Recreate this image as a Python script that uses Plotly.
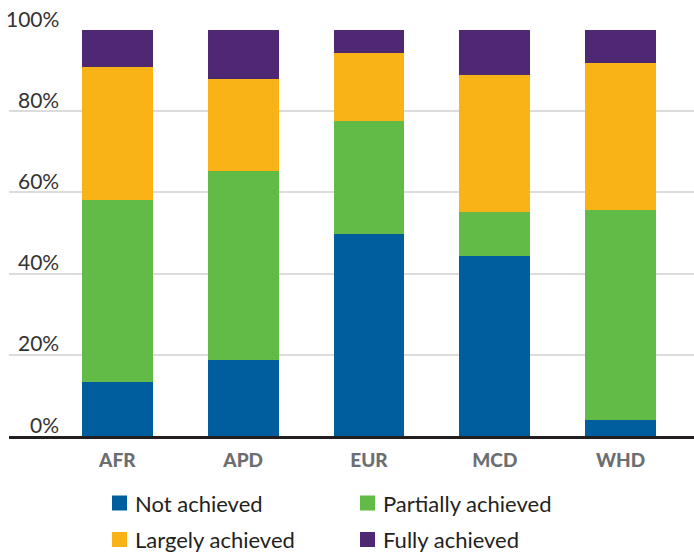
import plotly.graph_objects as go

# Regions and share of benchmarks per status (percent)
regions = ["AFR", "APD", "EUR", "MCD", "WHD"]
not_achieved = [13.3, 18.7, 49.8, 44.3, 3.9]
partially_achieved = [44.8, 46.6, 27.8, 10.9, 51.8]
largely_achieved = [32.8, 22.6, 16.7, 33.7, 36.2]
fully_achieved = [9.1, 12.1, 5.7, 11.1, 8.1]

series_names = ["Not achieved", "Partially achieved", "Largely achieved", "Fully achieved"]
series_values = [not_achieved, partially_achieved, largely_achieved, fully_achieved]
series_colors = ["#005e9e", "#62bb46", "#f9b317", "#4f2874"]

y_ticks = [0, 20, 40, 60, 80, 100]
y_tick_labels = ["0%", "20%", "40%", "60%", "80%", "100%"]

W, H = 694, 557
ML, MR, MT, MB = 9, 0, 30, 121
PW, PH = W - ML - MR, H - MT - MB

FONT = "Lato"


def px_x(x):
    return (x - ML) / PW


def px_y(y):
    return (H - MB - y) / PH


fig = go.Figure()
for name, vals, col in zip(series_names, series_values, series_colors):
    fig.add_trace(go.Bar(
        x=regions, y=vals, name=name,
        marker=dict(color=col, line=dict(width=0)),
        showlegend=False,
    ))

# y-axis labels sit above their gridlines, right-aligned
for v, lab in zip(y_ticks, y_tick_labels):
    fig.add_annotation(
        x=px_x(61), xref="paper", y=v, yref="y",
        text=lab, showarrow=False, xanchor="right", yanchor="middle",
        yshift=12, font=dict(family=FONT, size=21, color="#333333"),
    )

# two-column legend beneath the chart
legend_cols = [112, 360]
legend_rows = [503, 539.5]
sq = 15
for i, (name, col) in enumerate(zip(series_names, series_colors)):
    cx = legend_cols[i % 2]
    cy = legend_rows[i // 2]
    fig.add_shape(
        type="rect", xref="paper", yref="paper",
        x0=px_x(cx), x1=px_x(cx + sq), y0=px_y(cy + sq / 2), y1=px_y(cy - sq / 2),
        fillcolor=col, line=dict(width=0),
    )
    fig.add_annotation(
        x=px_x(cx + sq + 6), xref="paper", y=px_y(cy), yref="paper",
        text=name, showarrow=False, xanchor="left", yanchor="middle",
        font=dict(family=FONT, size=22, color="#231f20"),
    )

fig.update_layout(
    width=W, height=H,
    margin=dict(l=ML, r=MR, t=MT, b=MB),
    barmode="stack",
    bargap=0.437,
    plot_bgcolor="white",
    paper_bgcolor="white",
    font=dict(family=FONT),
    xaxis=dict(
        range=[-0.861, 4.583],
        showline=True, linecolor="#231f20", linewidth=2.5,
        showgrid=False, ticks="", ticklabelstandoff=5,
        tickfont=dict(family=FONT, size=19, color="#6d6e71", weight=900),
        fixedrange=True,
    ),
    yaxis=dict(
        range=[0, 100],
        tickvals=y_ticks, showticklabels=False,
        showgrid=True, gridcolor="#dcdcdc", gridwidth=1.5,
        zeroline=False, showline=False, ticks="",
        fixedrange=True,
    ),
)

fig.write_html("out.html")
